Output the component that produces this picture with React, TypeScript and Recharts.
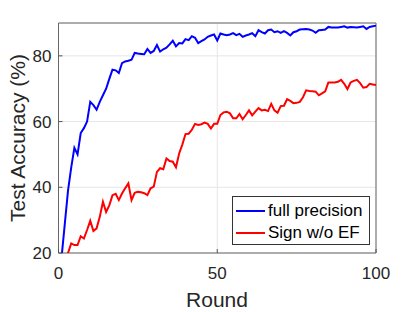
import { LineChart, Line, XAxis, YAxis, CartesianGrid, Legend, ReferenceArea } from 'recharts'

const fullPrecision = [
  19, 29, 39, 46, 52, 50, 56.5, 58, 60, 66,
  65, 63.6, 66, 68, 70, 73, 75.8, 75.6, 74.8, 77.8,
  78.3, 78.5, 78.8, 80.9, 80.7, 80.6, 80.5, 82.1, 80.9, 81.5,
  83.3, 81.3, 82, 82.5, 83.5, 84.6, 82.9, 83.9, 83.8, 85.1,
  84.8, 86, 85.5, 83.9, 84.5, 85, 85.8, 86.2, 86.5, 84.7,
  86.8, 86.5, 86.3, 86.5, 86.9, 86.3, 86.7, 85.8, 86.2, 86.5,
  86.9, 86, 87.8, 87.2, 86.8, 87.8, 88, 87.2, 87.5, 87,
  87.5, 87, 86.2, 87.2, 87.5, 88, 88.1, 88.2, 88, 87.7,
  87, 87.8, 87.9, 88, 88.8, 88.6, 88.6, 88.6, 88.8, 89,
  88.6, 88.8, 88.7, 88.6, 88.8, 89, 88.2, 88.8, 89, 89.2,
]

const signNoEF = [
  14, 17, 20, 22.9, 22.4, 22.4, 25.1, 24.4, 27, 29.8,
  26.7, 27.5, 31, 35.6, 32.5, 34.5, 37.6, 38, 36.1, 38.1,
  39.7, 41.2, 36.1, 38.3, 38.6, 38.5, 38.2, 37.6, 39.7, 40.2,
  44.7, 45.8, 45.5, 48.8, 48, 47.8, 46.1, 50.3, 53, 56.2,
  56.3, 57.5, 59.3, 59, 59.2, 59.7, 59.3, 57.9, 59.3, 59.3,
  62, 62.8, 63, 62.5, 61, 61, 62.3, 60.7, 62, 63.4,
  61.9, 63, 64.1, 63.4, 63.6, 63.2, 65.4, 63.4, 62.7, 64.7,
  64.8, 66.8, 66.3, 65.6, 65.7, 66, 67.4, 69.5, 69.3, 69.2,
  69.1, 68, 68.6, 69.2, 71.9, 71.9, 71.9, 72.1, 72.7, 71.5,
  69.9, 71.9, 72.4, 72.7, 71.7, 70.3, 70.5, 71.5, 71.3, 71.1,
]

const rounds = fullPrecision.map((_, i) => i + 1)
const xTicks = [0, 50, 100]
const yTicks = [20, 40, 60, 80]

const data = rounds.map((round, i) => ({
  round,
  full: fullPrecision[i],
  sign: signNoEF[i],
}))

const font = '"Liberation Sans", Arial, Helvetica, sans-serif'
const ink = '#262626'

const legendItems = [
  { name: 'full precision', color: '#0000ff' },
  { name: 'Sign w/o EF', color: '#ff0000' },
]

function LegendBox() {
  return (
    <div
      style={{
        width: 138,
        height: 49,
        boxSizing: 'border-box',
        border: '1px solid #333',
        background: '#fff',
        padding: '3px 0 0 3px',
        fontFamily: font,
        fontSize: 17,
        color: '#000',
      }}
    >
      {legendItems.map((item) => (
        <div key={item.name} style={{ display: 'flex', alignItems: 'center', height: 22 }}>
          <span style={{ width: 29, height: 2, background: item.color, marginRight: 3 }} />
          <span>{item.name}</span>
        </div>
      ))}
    </div>
  )
}

export default function App() {
  return (
    <div style={{ position: 'absolute', left: 0, top: 0, width: 415, height: 312, background: '#fff' }}>
      <LineChart
        width={415}
        height={312}
        data={data}
        margin={{ top: 23, right: 39, left: 0, bottom: 9 }}
      >
        <CartesianGrid stroke="#e6e6e6" />
        <XAxis
          dataKey="round"
          type="number"
          domain={[0, 100]}
          ticks={xTicks}
          height={50}
          axisLine={false}
          tickLine={{ stroke: '#555' }}
          tickSize={-4}
          tickMargin={18}
          tick={{ fill: ink, fontSize: 17, fontFamily: font }}
          label={{
            content: () => (
              <text x={217} y={307} textAnchor="middle" fill={ink} fontSize={21} fontFamily={font}>
                Round
              </text>
            ),
          }}
        />
        <YAxis
          type="number"
          domain={[20, 90]}
          ticks={yTicks}
          allowDataOverflow
          width={58.5}
          axisLine={false}
          tickLine={{ stroke: '#555' }}
          tickSize={-4}
          tickMargin={11}
          tick={{ fill: ink, fontSize: 17, fontFamily: font }}
          label={{
            content: () => (
              <text
                x={17}
                y={138}
                transform="rotate(-90 17 138)"
                textAnchor="middle"
                dominantBaseline="central"
                fill={ink}
                fontSize={21}
                fontFamily={font}
              >
                Test Accuracy (%)
              </text>
            ),
          }}
        />
        <ReferenceArea x1={0} x2={100} y1={20} y2={90} fill="none" stroke="#666" strokeWidth={1} ifOverflow="visible" />
        <Line
          type="linear"
          dataKey="full"
          stroke="#0000ff"
          strokeWidth={2}
          dot={false}
          isAnimationActive={false}
        />
        <Line
          type="linear"
          dataKey="sign"
          stroke="#ff0000"
          strokeWidth={2}
          dot={false}
          isAnimationActive={false}
        />
        <Legend
          layout="vertical"
          align="center"
          verticalAlign="middle"
          content={() => <LegendBox />}
          wrapperStyle={{ position: 'absolute', left: 232, top: 196, width: 138, height: 49 }}
        />
      </LineChart>
    </div>
  )
}
